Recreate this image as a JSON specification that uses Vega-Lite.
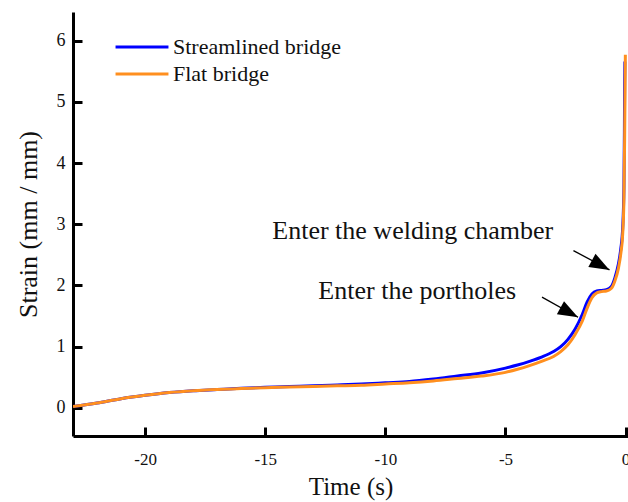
{
  "$schema": "https://vega.github.io/schema/vega-lite/v6.json",
  "width": 555,
  "height": 424,
  "autosize": {"type": "none"},
  "padding": {"left": 73, "top": 12, "right": 0, "bottom": 66},
  "background": "white",
  "config": {
    "view": {"stroke": null},
    "font": "Liberation Serif, Times New Roman, serif",
    "text": {"font": "Liberation Serif, Times New Roman, serif"},
    "axis": {
      "domainColor": "black",
      "domainWidth": 3,
      "tickColor": "black",
      "tickWidth": 3,
      "tickSize": -9,
      "grid": false,
      "labelFont": "Liberation Serif, Times New Roman, serif",
      "labelFontSize": 18,
      "labelColor": "#111",
      "titleFont": "Liberation Serif, Times New Roman, serif",
      "titleFontSize": 26,
      "titleFontWeight": "normal",
      "titleColor": "#111"
    },
    "legend": {
      "labelFont": "Liberation Serif, Times New Roman, serif",
      "labelLimit": 400
    }
  },
  "datasets": {
    "curves": [
      {"series": "Streamlined bridge", "t": -23, "strain": 0.02},
      {"series": "Streamlined bridge", "t": -22, "strain": 0.08},
      {"series": "Streamlined bridge", "t": -21, "strain": 0.15},
      {"series": "Streamlined bridge", "t": -20, "strain": 0.205},
      {"series": "Streamlined bridge", "t": -19, "strain": 0.25},
      {"series": "Streamlined bridge", "t": -18, "strain": 0.28},
      {"series": "Streamlined bridge", "t": -17, "strain": 0.30},
      {"series": "Streamlined bridge", "t": -16, "strain": 0.32},
      {"series": "Streamlined bridge", "t": -15, "strain": 0.335},
      {"series": "Streamlined bridge", "t": -14, "strain": 0.35},
      {"series": "Streamlined bridge", "t": -13, "strain": 0.36},
      {"series": "Streamlined bridge", "t": -12, "strain": 0.375},
      {"series": "Streamlined bridge", "t": -11, "strain": 0.39},
      {"series": "Streamlined bridge", "t": -10, "strain": 0.41},
      {"series": "Streamlined bridge", "t": -9, "strain": 0.43},
      {"series": "Streamlined bridge", "t": -8, "strain": 0.47},
      {"series": "Streamlined bridge", "t": -7, "strain": 0.52},
      {"series": "Streamlined bridge", "t": -6, "strain": 0.57},
      {"series": "Streamlined bridge", "t": -5, "strain": 0.65},
      {"series": "Streamlined bridge", "t": -4.5, "strain": 0.70},
      {"series": "Streamlined bridge", "t": -4, "strain": 0.76},
      {"series": "Streamlined bridge", "t": -3.5, "strain": 0.83},
      {"series": "Streamlined bridge", "t": -3, "strain": 0.92},
      {"series": "Streamlined bridge", "t": -2.7, "strain": 1.0},
      {"series": "Streamlined bridge", "t": -2.4, "strain": 1.12},
      {"series": "Streamlined bridge", "t": -2.1, "strain": 1.29},
      {"series": "Streamlined bridge", "t": -1.8, "strain": 1.53},
      {"series": "Streamlined bridge", "t": -1.6, "strain": 1.73},
      {"series": "Streamlined bridge", "t": -1.4, "strain": 1.86},
      {"series": "Streamlined bridge", "t": -1.2, "strain": 1.91},
      {"series": "Streamlined bridge", "t": -1.0, "strain": 1.92},
      {"series": "Streamlined bridge", "t": -0.8, "strain": 1.93},
      {"series": "Streamlined bridge", "t": -0.6, "strain": 1.98},
      {"series": "Streamlined bridge", "t": -0.45, "strain": 2.12},
      {"series": "Streamlined bridge", "t": -0.3, "strain": 2.35},
      {"series": "Streamlined bridge", "t": -0.2, "strain": 2.6},
      {"series": "Streamlined bridge", "t": -0.12, "strain": 2.95},
      {"series": "Streamlined bridge", "t": -0.07, "strain": 3.6},
      {"series": "Streamlined bridge", "t": -0.05, "strain": 4.5},
      {"series": "Streamlined bridge", "t": -0.04, "strain": 5.3},
      {"series": "Streamlined bridge", "t": -0.03, "strain": 5.66},
      {"series": "Flat bridge", "t": -23, "strain": 0.02},
      {"series": "Flat bridge", "t": -22, "strain": 0.08},
      {"series": "Flat bridge", "t": -21, "strain": 0.15},
      {"series": "Flat bridge", "t": -20, "strain": 0.205},
      {"series": "Flat bridge", "t": -19, "strain": 0.25},
      {"series": "Flat bridge", "t": -18, "strain": 0.28},
      {"series": "Flat bridge", "t": -17, "strain": 0.30},
      {"series": "Flat bridge", "t": -16, "strain": 0.315},
      {"series": "Flat bridge", "t": -15, "strain": 0.33},
      {"series": "Flat bridge", "t": -14, "strain": 0.34},
      {"series": "Flat bridge", "t": -13, "strain": 0.35},
      {"series": "Flat bridge", "t": -12, "strain": 0.36},
      {"series": "Flat bridge", "t": -11, "strain": 0.37},
      {"series": "Flat bridge", "t": -10, "strain": 0.39},
      {"series": "Flat bridge", "t": -9, "strain": 0.41},
      {"series": "Flat bridge", "t": -8, "strain": 0.44},
      {"series": "Flat bridge", "t": -7, "strain": 0.48},
      {"series": "Flat bridge", "t": -6, "strain": 0.52},
      {"series": "Flat bridge", "t": -5, "strain": 0.58},
      {"series": "Flat bridge", "t": -4.5, "strain": 0.63},
      {"series": "Flat bridge", "t": -4, "strain": 0.69},
      {"series": "Flat bridge", "t": -3.5, "strain": 0.76},
      {"series": "Flat bridge", "t": -3, "strain": 0.84},
      {"series": "Flat bridge", "t": -2.7, "strain": 0.92},
      {"series": "Flat bridge", "t": -2.4, "strain": 1.03},
      {"series": "Flat bridge", "t": -2.1, "strain": 1.20},
      {"series": "Flat bridge", "t": -1.8, "strain": 1.42},
      {"series": "Flat bridge", "t": -1.6, "strain": 1.63},
      {"series": "Flat bridge", "t": -1.4, "strain": 1.80},
      {"series": "Flat bridge", "t": -1.2, "strain": 1.88},
      {"series": "Flat bridge", "t": -1.0, "strain": 1.90},
      {"series": "Flat bridge", "t": -0.8, "strain": 1.91},
      {"series": "Flat bridge", "t": -0.6, "strain": 1.95},
      {"series": "Flat bridge", "t": -0.45, "strain": 2.07},
      {"series": "Flat bridge", "t": -0.3, "strain": 2.28},
      {"series": "Flat bridge", "t": -0.2, "strain": 2.52},
      {"series": "Flat bridge", "t": -0.12, "strain": 2.85},
      {"series": "Flat bridge", "t": -0.07, "strain": 3.4},
      {"series": "Flat bridge", "t": -0.04, "strain": 4.4},
      {"series": "Flat bridge", "t": -0.02, "strain": 5.3},
      {"series": "Flat bridge", "t": -0.01, "strain": 5.77}
    ],
    "notes": [
      {"label": "Enter the welding chamber", "t": -8.86, "strain": 2.76, "t0": -2.17, "s0": 2.57, "t1": -0.67, "s1": 2.255},
      {"label": "Enter the portholes", "t": -8.67, "strain": 1.78, "t0": -3.48, "s0": 1.81, "t1": -1.98, "s1": 1.48}
    ]
  },
  "layer": [
    {
      "data": {"name": "curves"},
      "mark": {"type": "line", "strokeWidth": 3, "interpolate": "monotone", "clip": true},
      "encoding": {
        "x": {
          "field": "t",
          "type": "quantitative",
          "scale": {"domain": [-23, 0.1], "nice": false, "zero": false},
          "axis": {"title": "Time (s)", "values": [-20, -15, -10, -5, 0], "labelExpr": "'' + datum.value", "labelFontSize": 17, "labelPadding": 24, "titlePadding": 7, "titleFontSize": 25, "labelFont": "Liberation Serif, Times New Roman, serif", "titleFont": "Liberation Serif, Times New Roman, serif"}
        },
        "y": {
          "field": "strain",
          "type": "quantitative",
          "scale": {"domain": [-0.46, 6.47], "nice": false, "zero": false},
          "axis": {"title": "Strain (mm / mm)", "values": [0, 1, 2, 3, 4, 5, 6], "labelExpr": "'' + datum.value", "labelFontSize": 18, "labelPadding": 17, "titlePadding": 15, "titleFontSize": 26, "labelFont": "Liberation Serif, Times New Roman, serif", "titleFont": "Liberation Serif, Times New Roman, serif"}
        },
        "color": {
          "field": "series",
          "type": "nominal",
          "sort": ["Streamlined bridge", "Flat bridge"],
          "scale": {"domain": ["Streamlined bridge", "Flat bridge"], "range": ["#0000FF", "#FF8F1F"]},
          "legend": {
            "title": null,
            "orient": "none",
            "legendX": 58,
            "legendY": 24,
            "padding": 0,
            "symbolType": "M-10,0H10",
            "symbolSize": 28,
            "symbolStrokeWidth": 3,
            "labelOffset": 20,
            "labelFont": "Liberation Serif, Times New Roman, serif",
            "labelFontSize": 22,
            "labelLimit": 400,
            "labelColor": "#111",
            "rowPadding": 5
          }
        },
        "order": {"field": "t"}
      }
    },
    {
      "data": {"name": "notes"},
      "mark": {"type": "text", "font": "Liberation Serif, Times New Roman, serif", "fontSize": 26, "align": "center", "baseline": "alphabetic", "color": "#111"},
      "encoding": {
        "x": {"field": "t", "type": "quantitative"},
        "y": {"field": "strain", "type": "quantitative"},
        "text": {"field": "label"}
      }
    },
    {
      "data": {"name": "notes"},
      "mark": {"type": "rule", "color": "black", "strokeWidth": 1.3},
      "encoding": {
        "x": {"field": "t0", "type": "quantitative"},
        "y": {"field": "s0", "type": "quantitative"},
        "x2": {"field": "t1"},
        "y2": {"field": "s1"}
      }
    },
    {
      "data": {"name": "notes"},
      "mark": {"type": "point", "shape": "M0,0L-2,-0.75L-2,0.75Z", "size": 400, "angle": 28.5, "filled": true, "color": "black", "opacity": 1},
      "encoding": {
        "x": {"field": "t1", "type": "quantitative"},
        "y": {"field": "s1", "type": "quantitative"}
      }
    }
  ]
}
